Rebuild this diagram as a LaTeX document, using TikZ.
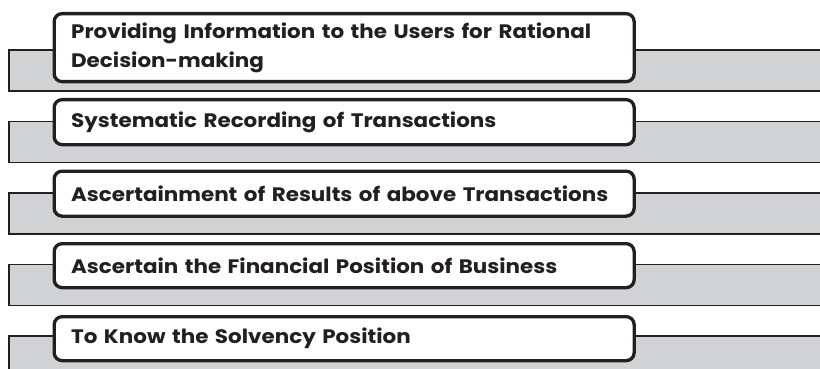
\documentclass[tikz,border=0pt]{standalone}
\usepackage{fontspec}
\setmainfont{Poppins}[FakeStretch=1.1]
\definecolor{bandgray}{HTML}{D1D2D4}
\definecolor{linegray}{HTML}{231F20}
\tikzset{
  itembox/.style={draw=linegray, line width=3.3pt, rounded corners=8pt, fill=white,
    anchor=north west, inner xsep=17pt, inner ysep=0pt, align=left, text width=546pt,
    minimum width=580pt,
    font=\bfseries\fontsize{19.5}{29.5}\selectfont, text=linegray},
  bandline/.style={draw=linegray, line width=1.4pt},
}
\begin{document}
\begin{tikzpicture}[x=1pt,y=-1pt]
\useasboundingbox (0,0) rectangle (820,369);
\clip (0,0) rectangle (820,369);
% bands
\foreach \t in {50,121.5,193,264.5,336}{
  \fill[bandgray] (9,\t) rectangle (830,\t+41);
  \draw[bandline] (830,\t) -- (9,\t) -- (9,\t+41) -- (830,\t+41);
}
% boxes
\node[itembox, minimum height=68pt] (b1) at (52.5,12)
  {Providing Information to the Users for Rational\\Decision-making};
\node[itembox, minimum height=45pt] (b2) at (52.5,98)
  {Systematic Recording of Transactions};
\node[itembox, minimum height=45pt] (b3) at (52.5,169.5)
  {Ascertainment of Results of above Transactions};
\node[itembox, minimum height=44pt] (b4) at (52.5,242)
  {Ascertain the Financial Position of Business};
\node[itembox, minimum height=44pt] (b5) at (52.5,315)
  {To Know the Solvency Position};
\end{tikzpicture}
\end{document}
